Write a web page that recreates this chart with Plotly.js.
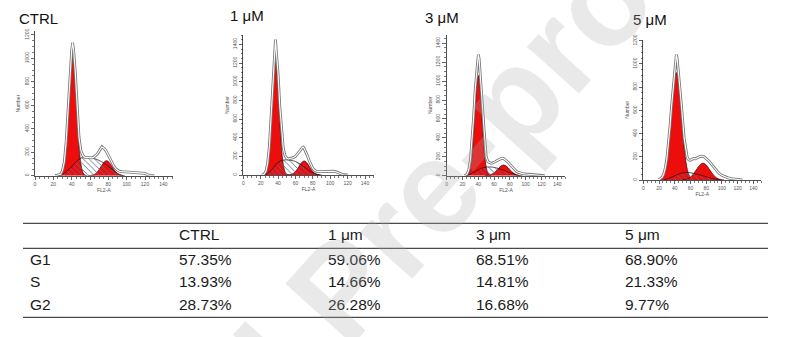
<!DOCTYPE html>
<html><head><meta charset="utf-8">
<script src="https://cdn.plot.ly/plotly-3.0.1.min.js"></script>
<style>html,body{margin:0;padding:0;background:#fff}#chart{width:791px;height:337px}</style>
</head><body><div id="chart"></div>
<script>
// ---------- panel labels ----------
const panelTitles = ['CTRL', '1 μM', '3 μM', '5 μM'];
const yMax = [1230, 1500, 1490, 1210];

// ---------- CTRL ----------
const ctrlG1X = [25,27,29,31,33,35,37,39,41,43,45,47,49,51,53,55,57];
const ctrlG1Y = [0,4,17,61,168,372,655,920,1030,920,655,372,168,61,17,4,0];
const ctrlG2X = [58,60,62,64,66,68,70,72,74,76,78,80,82,84,86,88,90,92,94,96,98];
const ctrlG2Y = [0,1,4,8,17,32,53,78,102,121,128,121,102,78,53,32,17,8,4,1,0];
const ctrlSX = [26,30,34,38,42,46,50,54,58,62,66,70,74,78,82,86,90,94,96];
const ctrlSY = [0,12,35,62,95,128,150,156,155,150,142,130,112,90,66,42,20,5,0];
const ctrlHistX = [22,24,26,28,30,32,34,36,38,40,41,42,44,46,48,50,52,54,56,58,60,62,64,66,68,70,72,73,74,76,78,80,82,84,86,88,90,92,95,98,102,106,110,114,118,120,122,125,130];
const ctrlHistY = [0,2,5,12,45,120,290,560,870,1070,1134,1080,880,600,330,215,175,158,155,152,150,152,158,168,185,210,238,247,240,228,205,175,140,105,82,60,45,38,35,33,32,30,30,28,25,20,10,3,0];
const ctrlMark = [41];

// ---------- 1 µM ----------
const m1G1X = [21,23,25,27,29,31,33,35,37,39,41,43,45,47,49,51,53];
const m1G1Y = [0,4,17,63,183,421,764,1092,1230,1092,764,421,183,63,17,4,0];
const m1G2X = [50,52,54,56,58,60,62,64,66,68,70,72,74,76,78,80,82,84,86,88,90];
const m1G2Y = [0,2,4,10,20,37,62,91,120,142,150,142,120,91,62,37,20,10,4,2,0];
const m1SX = [25,28,32,36,40,44,48,52,56,60,64,68,72,76,80,84,88];
const m1SY = [0,15,50,95,135,155,162,160,155,145,125,100,72,46,24,9,0];
const m1HistX = [22,24,26,28,30,32,34,36,37,38,40,42,44,46,48,50,52,54,56,58,60,62,64,66,68,69,70,72,74,76,78,80,82,84,88,92,96,100,104,108,112,115,120];
const m1HistY = [0,10,40,125,310,640,1010,1290,1450,1320,1090,730,450,285,205,180,172,175,180,188,200,220,245,270,295,300,285,250,200,150,105,70,50,40,36,38,42,44,40,30,15,3,0];
const m1Mark = [37];

// ---------- 3 µM ----------
const m3G1X = [24,26,28,30,32,34,36,38,40,42,44,46,48,50,52,54,56];
const m3G1Y = [0,8,30,90,218,436,714,960,1060,960,714,436,218,90,30,8,0];
const m3G2X = [48,51,54,57,60,63,66,69,72,75,78,81,84,87,90,93,96];
const m3G2Y = [0,2,6,15,31,55,82,104,113,104,82,55,31,15,6,2,0];
const m3SX = [24,28,32,36,40,44,48,52,56,60,64,68,72,76,80,84,88,92];
const m3SY = [0,10,25,45,62,78,88,92,92,88,80,70,58,45,32,20,9,0];
const m3HistX = [22,24,26,28,30,32,34,36,38,40,41,42,44,46,48,50,52,54,56,58,60,62,64,66,68,70,72,74,76,78,80,82,84,86,88,90,92,96,100,104,108,112,116,120,124];
const m3HistY = [0,5,20,65,165,345,610,900,1100,1280,1240,1110,930,660,410,200,150,140,132,135,140,150,160,170,178,185,182,170,160,140,120,100,80,62,48,38,30,22,18,14,10,7,4,2,0];

// ---------- 5 µM ----------
const m5G1X = [20,22,24,26,28,30,32,34,36,38,40,42,44,46,48,50,52,54,56,58,60,62,64];
const m5G1Y = [0,8,20,44,91,168,283,434,604,765,882,925,882,765,604,434,283,168,91,44,20,8,0];
const m5G2X = [49,52,55,58,61,64,67,70,73,76,79,82,85,88,91,94,97,100,103];
const m5G2Y = [0,3,7,15,31,54,83,113,136,145,136,113,83,54,31,15,7,3,0];
const m5SX = [26,30,34,38,42,46,50,54,58,62,66,70,74,78,82,86,90,94,98];
const m5SY = [0,8,18,30,42,54,62,65,64,60,54,47,40,32,24,16,9,4,0];
const m5HistX = [20,22,24,26,28,30,32,33,34,36,38,40,42,43,44,46,48,50,52,54,56,58,60,62,64,66,68,70,72,74,75,76,78,80,84,88,92,96,100,104,108,112,116,120,126];
const m5HistY = [2,10,25,52,105,185,310,390,465,640,810,940,1080,1050,950,830,680,510,360,273,190,172,170,178,185,182,190,196,202,206,208,204,196,185,160,125,90,60,40,28,18,12,8,5,0];

// ---------- table ----------
const tableHeader = ['', 'CTRL', '1 μm', '3 μm', '5 μm'];
const phaseLabels = ['G1', 'S', 'G2'];
const g1Pct = ['57.35%', '59.06%', '68.51%', '68.90%'];
const sPct  = ['13.93%', '14.66%', '14.81%', '21.33%'];
const g2Pct = ['28.73%', '26.28%', '16.68%', '9.77%'];

const panels = [
  {g1x: ctrlG1X, g1y: ctrlG1Y, g2x: ctrlG2X, g2y: ctrlG2Y, sx: ctrlSX, sy: ctrlSY, hx: ctrlHistX, hy: ctrlHistY, mark: ctrlMark},
  {g1x: m1G1X, g1y: m1G1Y, g2x: m1G2X, g2y: m1G2Y, sx: m1SX, sy: m1SY, hx: m1HistX, hy: m1HistY, mark: m1Mark},
  {g1x: m3G1X, g1y: m3G1Y, g2x: m3G2X, g2y: m3G2Y, sx: m3SX, sy: m3SY, hx: m3HistX, hy: m3HistY, mark: []},
  {g1x: m5G1X, g1y: m5G1Y, g2x: m5G2X, g2y: m5G2Y, sx: m5SX, sy: m5SY, hx: m5HistX, hy: m5HistY, mark: []}
];

// ---------- geometry (pixels) ----------
const W = 791, H = 337;
const boxes = [
  {l: 35, r: 172.5, b: 175.7, t: 31.4},
  {l: 243.3, r: 373.7, b: 175, t: 35},
  {l: 446.7, r: 565.2, b: 175.7, t: 34.7},
  {l: 643.3, r: 761.2, b: 180, t: 39.5}
];
const titlePos = [{x: 16.5, y: 18.3}, {x: 228, y: 16}, {x: 422.5, y: 17.5}, {x: 630.5, y: 19.2}];
const FONT = 'Liberation Sans, Arial, sans-serif';
const RED = '#ee0d0d';

const traces = [];
const layout = {
  width: W, height: H, margin: {l: 0, r: 0, t: 0, b: 0},
  paper_bgcolor: '#fff', plot_bgcolor: 'rgba(0,0,0,0)',
  showlegend: false, font: {family: FONT},
  annotations: [], shapes: []
};

panels.forEach((p, i) => {
  const xa = i === 0 ? 'x' : 'x' + (i + 1);
  const ya = i === 0 ? 'y' : 'y' + (i + 1);
  const common = {xaxis: xa, yaxis: ya, hoverinfo: 'skip', type: 'scatter'};
  traces.push(Object.assign({x: p.g1x, y: p.g1y, mode: 'lines', fill: 'tozeroy', fillcolor: RED,
    line: {color: '#3a0000', width: 0.7, shape: 'spline', smoothing: 0.8}}, common));
  traces.push(Object.assign({x: p.g2x, y: p.g2y, mode: 'lines', fill: 'tozeroy', fillcolor: RED,
    line: {color: '#3a0000', width: 0.7, shape: 'spline', smoothing: 0.8}}, common));
  traces.push(Object.assign({x: p.sx, y: p.sy, mode: 'lines', fill: 'tozeroy', fillcolor: 'rgba(0,0,0,0)',
    fillpattern: {shape: '\\', fgcolor: '#5d6b8a', bgcolor: 'rgba(0,0,0,0)', size: 4, solidity: 0.22},
    line: {color: '#111', width: 0.7, shape: 'spline', smoothing: 0.8}}, common));
  traces.push(Object.assign({x: p.hx, y: p.hy, mode: 'lines',
    line: {color: '#767676', width: 2.8, shape: 'linear'}}, common));
  traces.push(Object.assign({x: p.hx, y: p.hy, mode: 'lines',
    line: {color: '#ffffff', width: 1.1, shape: 'linear'}}, common));
  if (p.mark.length) {
    traces.push(Object.assign({x: p.mark, y: p.mark.map(() => -0.035 * yMax[i]), mode: 'markers',
      cliponaxis: false, marker: {symbol: 'triangle-up', size: 6, color: '#000', line: {width: 0}}}, common));
  }
  const b = boxes[i];
  const axBase = {
    showline: true, linecolor: '#222', linewidth: 0.8, ticks: 'outside', ticklen: 3.5, tickwidth: 0.7,
    tickcolor: '#222', showgrid: false, zeroline: false, fixedrange: true,
    tickfont: {size: 5, color: '#555', family: FONT}
  };
  layout[i === 0 ? 'xaxis' : 'xaxis' + (i + 1)] = Object.assign({}, axBase, {
    domain: [b.l / W, b.r / W], range: [0, 150], anchor: ya, dtick: 20, tick0: 0,
    minor: {dtick: 5, ticks: 'outside', ticklen: 2, tickcolor: '#222', tickwidth: 0.6, showgrid: false},
    title: {text: 'FL2-A', standoff: 2, font: {size: 5, color: '#555', family: FONT}}
  });
  layout[i === 0 ? 'yaxis' : 'yaxis' + (i + 1)] = Object.assign({}, axBase, {
    domain: [1 - b.b / H, 1 - b.t / H], range: [0, yMax[i]], anchor: xa, dtick: 200, tick0: 0,
    tickangle: -90,
    minor: {dtick: 50, ticks: 'outside', ticklen: 2, tickcolor: '#222', tickwidth: 0.6, showgrid: false},
    title: {text: 'Number', standoff: 2, font: {size: 5, color: '#555', family: FONT}}
  });
  layout.annotations.push({xref: 'paper', yref: 'paper', x: titlePos[i].x / W, y: 1 - titlePos[i].y / H,
    xanchor: 'left', yanchor: 'middle', showarrow: false, text: panelTitles[i],
    font: {size: 15, color: '#111', family: FONT}});
});

// ---------- table ----------
const colX = [27.7, 177, 326, 474, 623.3];
const rowY = [234.7, 259.2, 281.8, 304.2];
const lineY = [223.3, 248.3, 317.3];
lineY.forEach(y => layout.shapes.push({type: 'line', xref: 'paper', yref: 'paper',
  x0: 23 / W, x1: 768 / W, y0: 1 - y / H, y1: 1 - y / H, line: {color: '#4a4a4a', width: 1.3}}));
const tableRows = [tableHeader, [phaseLabels[0]].concat(g1Pct), [phaseLabels[1]].concat(sPct), [phaseLabels[2]].concat(g2Pct)];
tableRows.forEach((row, r) => row.forEach((txt, c) => {
  if (!txt) return;
  layout.annotations.push({xref: 'paper', yref: 'paper', x: colX[c] / W, y: 1 - rowY[r] / H,
    xanchor: 'left', yanchor: 'middle', showarrow: false, text: txt,
    font: {size: 15.5, color: '#1a1a1a', family: FONT}});
}));

// ---------- watermark ----------
layout.annotations.push({xref: 'paper', yref: 'paper', x: 340 / W, y: 1 - 290 / H,
  xanchor: 'center', yanchor: 'middle', showarrow: false, text: '<b>Journal Pre-proof</b>', textangle: -48,
  font: {size: 132, color: 'rgba(170,170,170,0.26)', family: FONT}});

Plotly.newPlot('chart', traces, layout, {staticPlot: true, displayModeBar: false});
</script>
</body></html>
